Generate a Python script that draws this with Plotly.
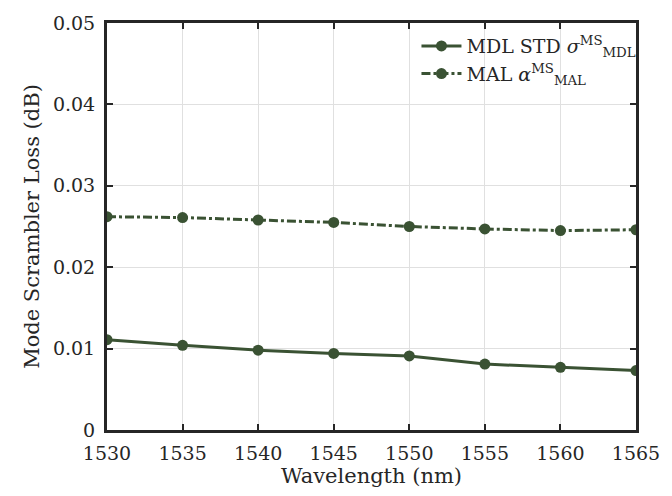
import plotly.graph_objects as go

wavelength = [1530, 1535, 1540, 1545, 1550, 1555, 1560, 1565]
mdl_std = [0.0111, 0.0104, 0.0098, 0.0094, 0.0091, 0.0081, 0.0077, 0.0073]
mal = [0.0262, 0.0261, 0.0258, 0.0255, 0.0250, 0.0247, 0.0245, 0.0246]
x_ticks = [1530, 1535, 1540, 1545, 1550, 1555, 1560, 1565]
y_ticks = [0, 0.01, 0.02, 0.03, 0.04, 0.05]
y_labels = ["0", "0.01", "0.02", "0.03", "0.04", "0.05"]

color = "#3a5233"
font = "DejaVu Serif"
ink = "#262626"

fig = go.Figure()
fig.add_trace(go.Scatter(
    x=wavelength, y=mdl_std, mode="lines+markers",
    name="MDL STD <i>σ</i><sup>MS</sup><sub>MDL</sub>",
    line=dict(color=color, width=3, dash="solid"),
    marker=dict(color=color, size=11)))
fig.add_trace(go.Scatter(
    x=wavelength, y=mal, mode="lines+markers",
    name="MAL <i>α</i><sup>MS</sup><sub>MAL</sub>",
    line=dict(color=color, width=3, dash="dashdot"),
    marker=dict(color=color, size=11)))

axis_common = dict(showline=True, linecolor=ink, linewidth=3, mirror="ticks",
                   ticks="inside", ticklen=6, tickwidth=2, tickcolor=ink,
                   showgrid=True, gridcolor="#e0e0e0", gridwidth=1, zeroline=False,
                   tickfont=dict(family=font, size=19, color=ink))

fig.update_layout(
    width=672, height=496,
    margin=dict(l=107, r=25, t=15, b=65),
    plot_bgcolor="white", paper_bgcolor="white",
    font=dict(family=font, size=19, color=ink),
    xaxis=dict(range=[1530, 1565], tickvals=x_ticks, ticklabelstandoff=4,
               title=dict(text="Wavelength (nm)", font=dict(family=font, size=21, color=ink), standoff=6),
               **axis_common),
    yaxis=dict(range=[0, 0.05], tickvals=y_ticks, ticktext=y_labels, ticklabelstandoff=5,
               title=dict(text="Mode Scrambler Loss (dB)", font=dict(family=font, size=21, color=ink), standoff=8),
               **axis_common),
    legend=dict(x=0.585, y=0.99, xanchor="left", yanchor="top",
                bgcolor="rgba(255,255,255,0)", borderwidth=0,
                font=dict(family=font, size=19, color=ink),
                itemwidth=40, tracegroupgap=0),
)

fig.write_html("out.html")
